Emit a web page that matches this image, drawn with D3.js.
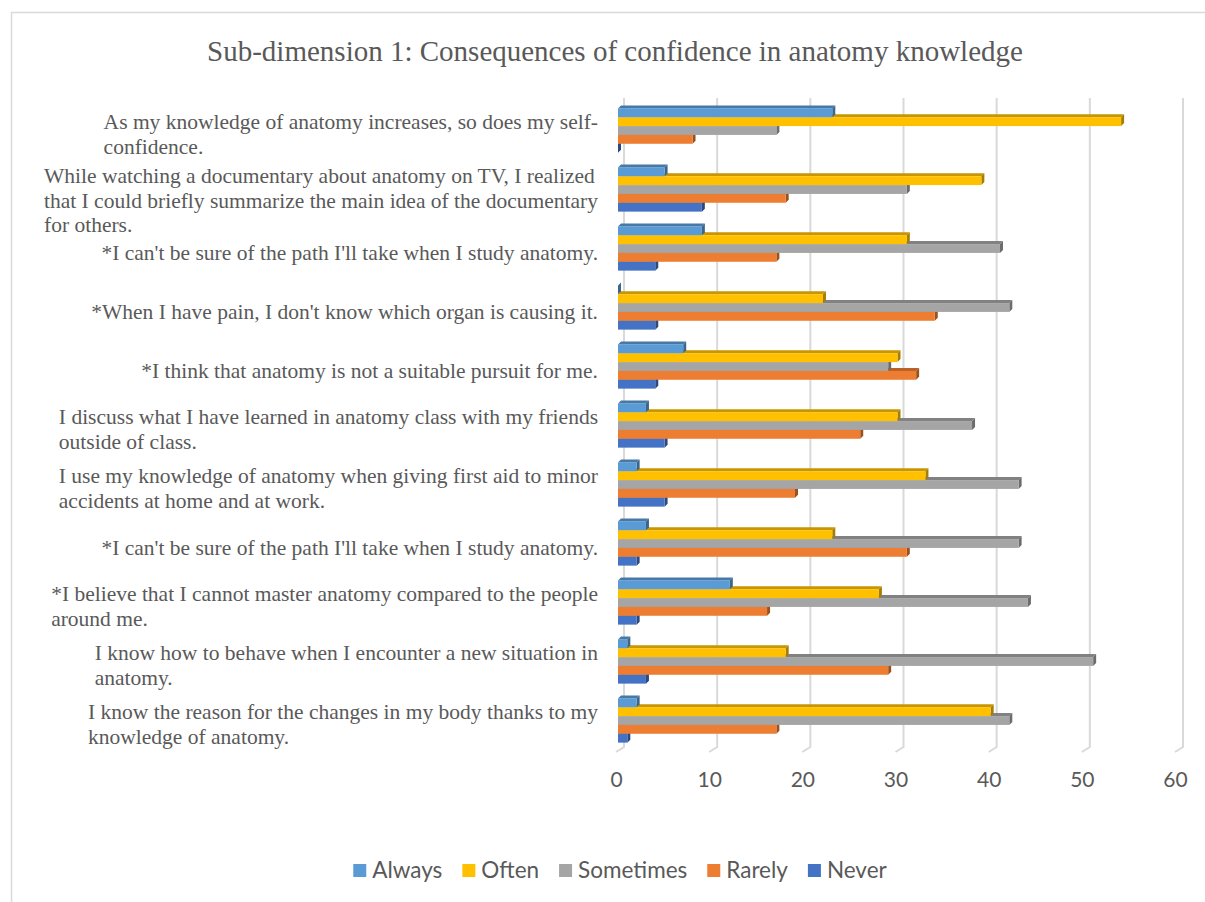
<!DOCTYPE html>
<html>
<head>
<meta charset="utf-8">
<script src="https://cdn.jsdelivr.net/npm/d3@7"></script>
<style>
  body { margin: 0; background: #fff; }
  svg { display: block; }
</style>
</head>
<body>
<svg id="chart" width="1205" height="902"></svg>
<script>
// Chart data
const title = "Sub-dimension 1: Consequences of confidence in anatomy knowledge";

const categories = [
  ["As my knowledge of anatomy increases, so does my self-", "confidence."],
  ["While watching a documentary about anatomy on TV, I realized", "that I could briefly summarize the main idea of the documentary", "for others."],
  ["*I can't be sure of the path I'll take when I study anatomy."],
  ["*When I have pain, I don't know which organ is causing it."],
  ["*I think that anatomy is not a suitable pursuit for me."],
  ["I discuss what I have learned in anatomy class with my friends", "outside of class."],
  ["I use my knowledge of anatomy when giving first aid to minor", "accidents at home and at work."],
  ["*I can't be sure of the path I'll take when I study anatomy."],
  ["*I believe that I cannot master anatomy compared to the people", "around me."],
  ["I know how to behave when I encounter a new situation in", "anatomy."],
  ["I know the reason for the changes in my body thanks to my", "knowledge of anatomy."]
];

const seriesNames = ["Always", "Often", "Sometimes", "Rarely", "Never"];
const always    = [23, 5, 9, 0, 7, 3, 2, 3, 12, 1, 2];
const often     = [54, 39, 31, 22, 30, 30, 33, 23, 28, 18, 40];
const sometimes = [17, 31, 41, 42, 29, 38, 43, 43, 44, 51, 42];
const rarely    = [8, 18, 17, 34, 32, 26, 19, 31, 16, 29, 17];
const never     = [0, 9, 4, 4, 4, 5, 5, 2, 2, 3, 1];
const xTicks    = [0, 10, 20, 30, 40, 50, 60];

const colors = ["#5B9BD5", "#FFC000", "#A5A5A5", "#ED7D31", "#4472C4"];

// 1) Table built from the arrays
const seriesValues = [always, often, sometimes, rarely, never];
const rows = categories.map((lines, i) => ({
  id: i,
  lines,
  values: seriesNames.map((s, k) => ({ series: s, k, value: seriesValues[k][i] }))
}));

const svg = d3.select("#chart");

// Outer chart border (runs off the right and bottom edges)
svg.append("rect")
  .attr("x", 11.5).attr("y", 12.5)
  .attr("width", 1205).attr("height", 902)
  .attr("fill", "#fff")
  .attr("stroke", "#d9d9d9")
  .attr("stroke-width", 1.5);

// 2) Scales: back wall, front of bars, front edge of floor
const depth  = { dx: 3, dy: -3 };
const xBack  = d3.scaleLinear().domain([0, 60]).range([624, 1183]);
const xBar   = d3.scaleLinear().domain([0, 60]).range([618, 1177]);
const xFloor = d3.scaleLinear().domain([0, 60]).range([616, 1175]);

const y = d3.scaleBand()
  .domain(rows.map(d => d.id))
  .range([101, 750])
  .paddingInner(0.25)
  .paddingOuter(0.125);

const ySeries = d3.scaleBand()
  .domain(d3.range(seriesNames.length))
  .range([0, y.bandwidth()]);

// 3) Title
svg.append("text")
  .attr("x", 615).attr("y", 61)
  .attr("text-anchor", "middle")
  .attr("font-family", "'Liberation Serif', 'Times New Roman', serif")
  .attr("font-size", 29)
  .attr("fill", "#595959")
  .text(title);

// 4) Gridlines on the back wall with the little floor step
const grid = svg.append("g");
grid.selectAll("path.grid")
  .data(xTicks)
  .enter().append("path")
    .attr("class", "grid")
    .attr("d", v => `M${xBack(v)},98 V747 L${xFloor(v)},752`)
    .attr("fill", "none")
    .attr("stroke", "#d9d9d9")
    .attr("stroke-width", 2);

// 5) Tick labels
const xAxis = svg.append("g")
  .attr("transform", "translate(0,772)")
  .call(d3.axisBottom(xFloor).tickValues(xTicks).tickSize(0).tickPadding(0));
xAxis.select(".domain").remove();
xAxis.selectAll("text")
  .attr("dy", "0.71em")
  .attr("font-family", "Lato, 'Open Sans', sans-serif")
  .attr("font-size", 21)
  .attr("fill", "#595959");

// 6) Category labels: left-aligned block, right edge at x=598
const labelG = svg.append("g")
  .attr("font-family", "'Liberation Serif', 'Times New Roman', serif")
  .attr("font-size", 21.5)
  .attr("fill", "#595959");
const lh = 24.5;
rows.forEach(r => {
  const n  = r.lines.length;
  const cy = y(r.id) + y.bandwidth() / 2 + 11 + Math.max(0, n - 2) * 7;
  const t = labelG.append("text");
  r.lines.forEach((line, i) => {
    t.append("tspan")
      .attr("y", cy + (i - (n - 1) / 2) * lh)
      .text(line);
  });
  let w = 0;
  t.selectAll("tspan").each(function () { w = Math.max(w, this.getComputedTextLength()); });
  t.selectAll("tspan").attr("x", 598 - w);
});

// 7) 3D bars: lower series first so upper bars cover their top faces
const barG = svg.append("g");
rows.forEach(r => {
  const g = barG.append("g");
  const vals = r.values.slice().reverse();
  vals.forEach(d => {
    const c  = colors[d.k];
    const x0 = xBar(0), x1 = xBar(d.value);
    const y0 = y(r.id) + ySeries(d.k);
    const h  = ySeries.bandwidth();
    // top face
    g.append("path")
      .attr("d", `M${x0},${y0} L${x0 + depth.dx},${y0 + depth.dy} L${x1 + depth.dx},${y0 + depth.dy} L${x1},${y0} Z`)
      .attr("fill", d3.color(c).darker(0.7));
    // end face
    g.append("path")
      .attr("d", `M${x1},${y0} L${x1 + depth.dx},${y0 + depth.dy} L${x1 + depth.dx},${y0 + h + depth.dy} L${x1},${y0 + h} Z`)
      .attr("fill", d3.color(c).darker(1.2));
    // front face
    g.append("rect")
      .attr("x", x0).attr("y", y0)
      .attr("width", x1 - x0).attr("height", h)
      .attr("fill", c);
  });
});

// 8) Legend
const legend = svg.append("g")
  .attr("font-family", "Lato, 'Open Sans', sans-serif")
  .attr("font-size", 22.5)
  .attr("fill", "#595959");
const items = legend.selectAll("g.item")
  .data(seriesNames)
  .enter().append("g")
    .attr("class", "item");
items.append("rect")
  .attr("width", 13).attr("height", 13)
  .attr("y", 864)
  .attr("fill", (d, i) => colors[i]);
items.append("text")
  .attr("x", 19).attr("y", 878)
  .text(d => d);
let lx = 0;
const pos = [];
items.each(function () {
  pos.push(lx);
  lx += 19 + d3.select(this).select("text").node().getComputedTextLength() + 20;
});
const total = lx - 20;
const start = 620 - total / 2;
items.attr("transform", (d, i) => `translate(${start + pos[i]},0)`);
</script>
</body>
</html>
